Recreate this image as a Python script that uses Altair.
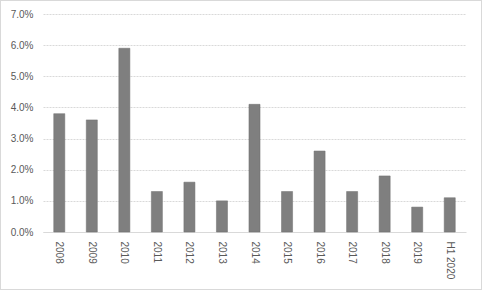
import altair as alt
import pandas as pd

years = ["2008", "2009", "2010", "2011", "2012", "2013", "2014", "2015",
         "2016", "2017", "2018", "2019", "H1 2020"]
values = [0.038, 0.036, 0.059, 0.013, 0.016, 0.010, 0.041, 0.013,
          0.026, 0.013, 0.018, 0.008, 0.011]

df = pd.DataFrame({"year": years, "value": values})

W, H = 423, 218
PL, PT = 43, 14

bars = alt.Chart(df).mark_bar(color="#7f7f7f", stroke="#6f6f6f", strokeWidth=0.5).encode(
    x=alt.X("year:N", sort=years, title=None,
            scale=alt.Scale(paddingInner=0.66, paddingOuter=0.33),
            axis=alt.Axis(labelAngle=90, labelAlign="left", labelBaseline="middle",
                          labelPadding=9, ticks=False, domainColor="#d9d9d9",
                          labelColor="#595959", labelFontSize=10,
                          labelFont="Liberation Sans")),
    y=alt.Y("value:Q", title=None,
            scale=alt.Scale(domain=[0, 0.07], nice=False),
            axis=alt.Axis(format=".1%", values=[i / 100 for i in range(8)],
                          ticks=False, domain=False, gridColor="#d9d9d9",
                          gridDash=[2, 1], labelPadding=10,
                          labelColor="#595959", labelFontSize=10,
                          labelFont="Liberation Sans")),
)

border = alt.Chart(df).mark_rect(fill=None, stroke="#d9d9d9", strokeWidth=1).encode(
    x=alt.value(-PL + 0.5), x2=alt.value(482 - PL - 0.5),
    y=alt.value(-PT + 0.5), y2=alt.value(290 - PT - 0.5),
)

chart = alt.layer(bars, border).properties(
    width=W, height=H,
    autosize=alt.AutoSizeParams(type="none"),
    padding={"left": PL, "top": PT, "right": 482 - PL - W, "bottom": 290 - PT - H},
    background="white",
).configure_view(stroke=None)

chart.save("out.html", embed_options={"renderer": "svg", "actions": False})
